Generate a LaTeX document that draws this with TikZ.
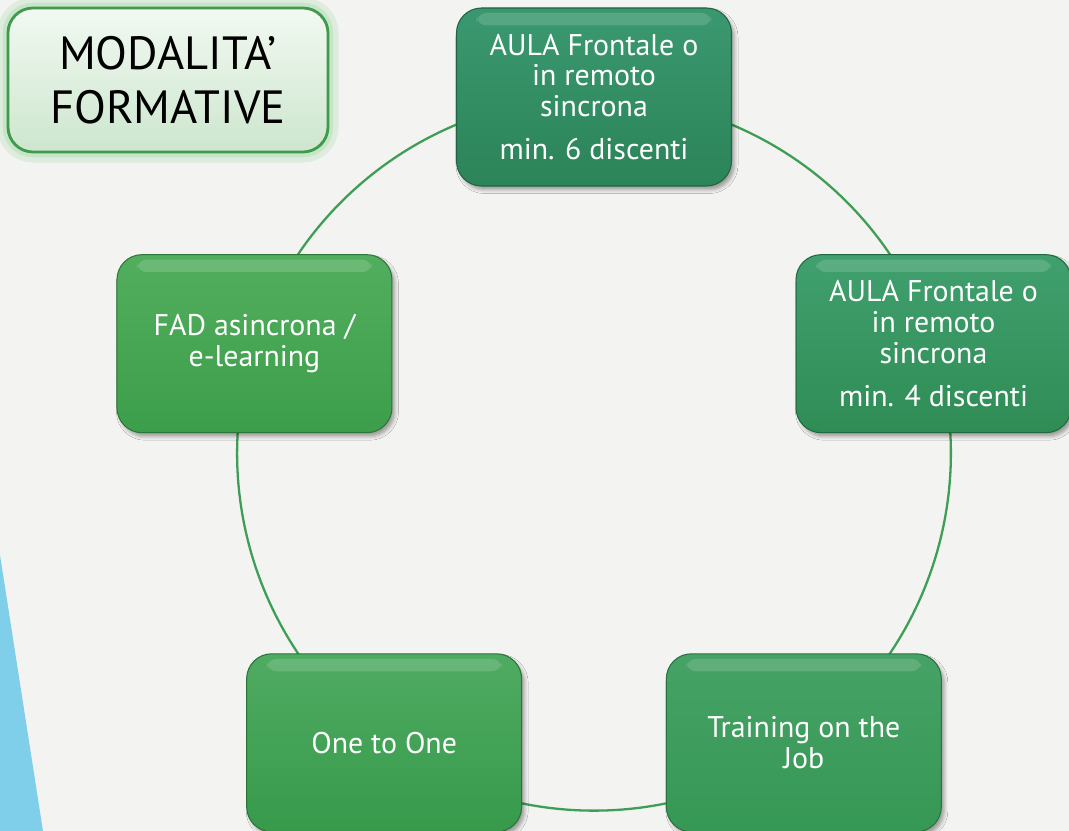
\documentclass[tikz,border=0pt]{standalone}
\usepackage{fontspec}
\setmainfont{PT Sans}
\usetikzlibrary{shadows.blur,backgrounds}
\definecolor{paper}{HTML}{F3F3F1}
\definecolor{ringgreen}{HTML}{3E9E55}
\definecolor{wedgeblue}{HTML}{7FCFEA}
\definecolor{titleline}{HTML}{3F9A4B}
\definecolor{titletop}{HTML}{F2F9F2}
\definecolor{titlebot}{HTML}{CDE6CE}
\definecolor{glowgreen}{HTML}{9FD8A4}
\definecolor{oneA}{HTML}{3A9870}
\definecolor{oneB}{HTML}{2C8458}
\definecolor{twoA}{HTML}{40A06E}
\definecolor{twoB}{HTML}{2F8C55}
\definecolor{threeA}{HTML}{46A266}
\definecolor{threeB}{HTML}{369855}
\definecolor{fourA}{HTML}{4FAB62}
\definecolor{fourB}{HTML}{379A4B}
\definecolor{fiveA}{HTML}{52AE5E}
\definecolor{fiveB}{HTML}{3C9E4A}
\tikzset{
  glossy/.style={
      path picture={\fill[white,opacity=0.15,rounded corners=2mm]
          ([xshift=4mm,yshift=-1mm]path picture bounding box.north west) rectangle
          ([xshift=-4mm,yshift=-3.5mm]path picture bounding box.north east);}
    }
}

\begin{document}
\begin{tikzpicture}[
    main/.style 2 args={draw=#2!75!black, line width=0.6pt, rounded corners=5mm,
        top color=#1, bottom color=#2, minimum width=5.5cm, minimum height=3.56cm,
        align=center, text=white, font=\fontsize{17}{17.5}\selectfont,
        blur shadow={shadow xshift=0.6mm, shadow yshift=-0.8mm, shadow opacity=35}, glossy},
    title/.style={draw=titleline, line width=1.6pt, rounded corners=5mm,
        top color=titletop, bottom color=titlebot, minimum width=6.4cm, minimum height=2.88cm,
        align=center, font=\fontsize{26.5}{31}\selectfont,
        preaction={draw=glowgreen, line width=12pt, opacity=0.25},
        preaction={draw=glowgreen, line width=6pt, opacity=0.35}},
    link/.style={draw=ringgreen, line width=1.3pt, bend left=36, looseness=0.94}]
  \useasboundingbox (-11.88,-7.54) rectangle (9.50,9.08);

  \node[title] (title) at (-8.52,7.48) {MODALITA'\\FORMATIVE};

  \node[main={oneA}{oneB}](1) at (90:7.14) {AULA Frontale o\\in remoto\\sincrona\\[7pt]min. 6 discenti};
  \node[main={twoA}{twoB}](2) at (18:7.14) {AULA Frontale o\\in remoto\\sincrona\\[7pt]min. 4 discenti};
  \node[main={threeA}{threeB}](3) at (-54:7.14) {Training on the\\Job};
  \node[main={fourA}{fourB}](4) at (-126:7.14) {One to One};
  \node[main={fiveA}{fiveB}](5) at (162:7.14) {FAD asincrona /\\e-learning};

  \begin{scope}[on background layer]
    \fill[paper] (-11.88,-7.54) rectangle (9.50,9.08);
    \fill[wedgeblue] (-11.88,-2.02) -- (-11.02,-7.54) -- (-11.88,-7.54) -- cycle;
    \path
    (1.center) edge[link] (2.center)
    (2.center) edge[link] (3.center)
    (3.center) edge[link] (4.center)
    (4.center) edge[link] (5.center)
    (5.center) edge[link] (1.center)
    ;
  \end{scope}
\end{tikzpicture}
\end{document}
